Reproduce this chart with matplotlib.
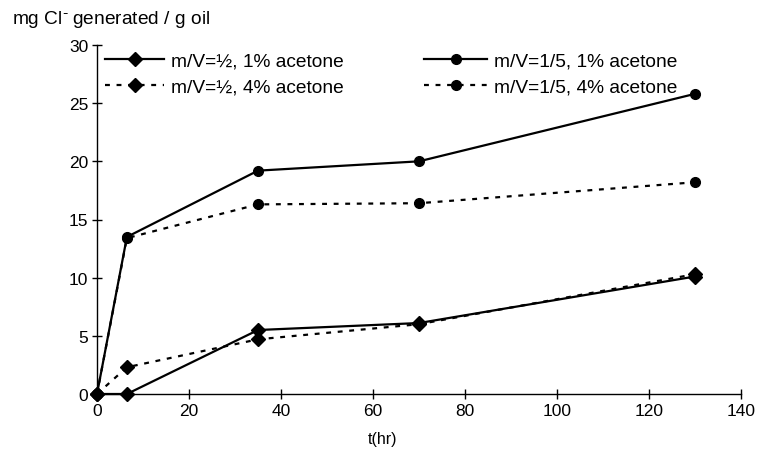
import matplotlib.pyplot as plt

plt.rcParams['font.family'] = ['Liberation Sans', 'DejaVu Sans']

t_hr = [0, 6.5, 35, 70, 130]
half_1pct = [0, 0, 5.5, 6.1, 10.1]
half_4pct = [0, 2.3, 4.7, 6.0, 10.3]
fifth_1pct = [0, 13.5, 19.2, 20.0, 25.8]
fifth_4pct = [0, 13.4, 16.3, 16.4, 18.2]

labels = ['m/V=½, 1% acetone', 'm/V=½, 4% acetone',
          'm/V=1/5, 1% acetone', 'm/V=1/5, 4% acetone']

fig = plt.figure(figsize=(7.6, 4.52), dpi=100)
ax = fig.add_axes([97 / 760, 57 / 452, 644 / 760, 349 / 452])

dash = (0, (2.2, 3))
l1, = ax.plot(t_hr, half_1pct, color='black', lw=1.6, marker='D', ms=7.5, clip_on=False, label=labels[0])
l2, = ax.plot(t_hr, half_4pct, color='black', lw=1.6, ls=dash, marker='D', ms=7.5, clip_on=False, label=labels[1])
l3, = ax.plot(t_hr, fifth_1pct, color='black', lw=1.6, marker='o', ms=7, clip_on=False, label=labels[2])
l4, = ax.plot(t_hr, fifth_4pct, color='black', lw=1.6, ls=dash, marker='o', ms=7, clip_on=False, label=labels[3])

ax.set_xlim(0, 140)
ax.set_ylim(0, 30)
ax.set_xticks(range(0, 141, 20))
ax.set_yticks(range(0, 31, 5))
ax.spines['top'].set_visible(False)
ax.spines['right'].set_visible(False)
for s in ('left', 'bottom'):
    ax.spines[s].set_linewidth(1.0)
ax.tick_params(direction='inout', length=7.5, width=1.0, labelsize=12.5, pad=2.5)

ax.set_xlabel('t(hr)', fontsize=11.5)
ax.xaxis.set_label_coords(0.444, -0.105)
fig.text(12 / 760, 1 - 20 / 452, r'mg Cl$^{\bar{\ }}$ generated / g oil', fontsize=13.8, va='center', ha='left')

leg_kw = dict(loc='upper left', frameon=False, fontsize=13.8, handletextpad=0.35,
              labelspacing=0.45, borderaxespad=0, borderpad=0)
leg1 = ax.legend([l1, l2], labels[:2], bbox_to_anchor=(8 / 644, 0.98), handlelength=3.1, **leg_kw)
ax.add_artist(leg1)
ax.legend([l3, l4], labels[2:], bbox_to_anchor=(327 / 644, 0.98), handlelength=3.3, **leg_kw)

fig.savefig('out.png', dpi=100)
